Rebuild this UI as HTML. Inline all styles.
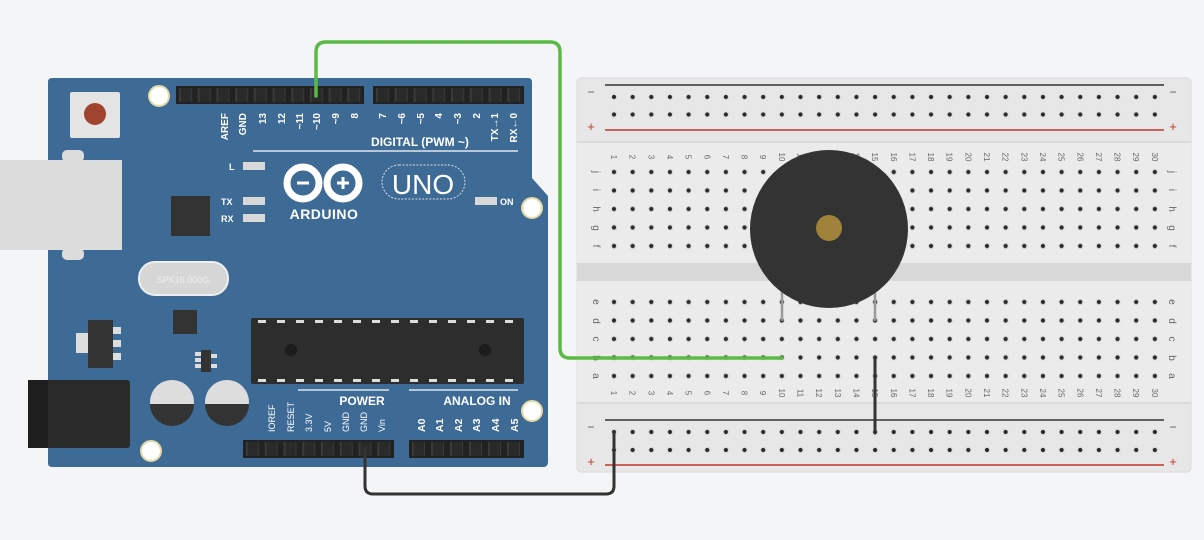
<!DOCTYPE html>
<html><head><meta charset="utf-8"><style>
html,body{margin:0;padding:0;background:#f4f5f7;}
svg{display:block;font-family:"Liberation Sans",sans-serif;}
</style></head><body>
<svg width="1204" height="540" viewBox="0 0 1204 540" xmlns="http://www.w3.org/2000/svg">
<defs>
<pattern id="hp" x="604.675" y="0" width="18.65" height="18.5" patternUnits="userSpaceOnUse">
<circle cx="9.325" cy="9.25" r="3.2" fill="#dcdcdc"/><circle cx="9.325" cy="9.25" r="2.1" fill="#2b2b2b"/>
</pattern>
<pattern id="hpm" x="604.675" y="162.75" width="18.65" height="18.5" patternUnits="userSpaceOnUse">
<circle cx="9.325" cy="9.25" r="3.2" fill="#dcdcdc"/><circle cx="9.325" cy="9.25" r="2.1" fill="#2b2b2b"/>
</pattern>
<pattern id="hpa" x="604.675" y="292.75" width="18.65" height="18.5" patternUnits="userSpaceOnUse">
<circle cx="9.325" cy="9.25" r="3.2" fill="#dcdcdc"/><circle cx="9.325" cy="9.25" r="2.1" fill="#2b2b2b"/>
</pattern>
<pattern id="hr1" x="604.675" y="88" width="18.65" height="17.5" patternUnits="userSpaceOnUse">
<circle cx="9.325" cy="9" r="3.2" fill="#dcdcdc"/><circle cx="9.325" cy="9" r="2.1" fill="#2b2b2b"/>
</pattern>
<pattern id="hr2" x="604.675" y="423" width="18.65" height="18" patternUnits="userSpaceOnUse">
<circle cx="9.325" cy="9" r="3.2" fill="#dcdcdc"/><circle cx="9.325" cy="9" r="2.1" fill="#2b2b2b"/>
</pattern>
<pattern id="pin" x="176" y="0" width="18.7" height="20" patternUnits="userSpaceOnUse">
<rect x="3" y="0" width="13" height="20" fill="#3a3a3a"/><rect x="5" y="0" width="10" height="20" fill="#2a2a2a"/>
</pattern>
<pattern id="pin2" x="373" y="0" width="18.75" height="20" patternUnits="userSpaceOnUse">
<rect x="3" y="0" width="13" height="20" fill="#3a3a3a"/><rect x="5" y="0" width="10" height="20" fill="#2a2a2a"/>
</pattern>
<pattern id="pin3" x="243" y="0" width="18.75" height="20" patternUnits="userSpaceOnUse">
<rect x="3" y="0" width="13" height="20" fill="#3a3a3a"/><rect x="5" y="0" width="10" height="20" fill="#2a2a2a"/>
</pattern>
<pattern id="pin4" x="409" y="0" width="19" height="20" patternUnits="userSpaceOnUse">
<rect x="3" y="0" width="13" height="20" fill="#3a3a3a"/><rect x="5" y="0" width="10" height="20" fill="#2a2a2a"/>
</pattern>
</defs>

<!-- Breadboard -->
<rect x="577" y="78" width="614" height="394" rx="4" fill="#e7e7e7" stroke="#dcdcdc"/>
<rect x="577" y="143" width="614" height="260" fill="#ebebeb"/>
<rect x="577" y="263" width="614" height="18" fill="#d8d8d8"/>
<rect x="577" y="141" width="614" height="2" fill="#dadada"/>
<rect x="577" y="402" width="614" height="2" fill="#dadada"/>
<line x1="605" y1="85" x2="1164" y2="85" stroke="#333" stroke-width="1.5"/>
<line x1="605" y1="130" x2="1164" y2="130" stroke="#c0392b" stroke-width="1.5"/>
<line x1="605" y1="420" x2="1164" y2="420" stroke="#333" stroke-width="1.5"/>
<line x1="605" y1="465" x2="1164" y2="465" stroke="#c0392b" stroke-width="1.5"/>
<rect x="604.675" y="88" width="559.5" height="35" fill="url(#hr1)"/>
<rect x="604.675" y="423" width="559.5" height="36" fill="url(#hr2)"/>
<rect x="604.675" y="162.75" width="559.5" height="92.5" fill="url(#hpm)"/>
<rect x="604.675" y="292.75" width="559.5" height="92.5" fill="url(#hpa)"/>
<g font-size="13" fill="#c0392b" text-anchor="middle"><text x="591" y="131">+</text><text x="1173" y="131">+</text><text x="591" y="466">+</text><text x="1173" y="466">+</text></g>
<g font-size="12" fill="#555" text-anchor="middle"><text x="591" y="96">−</text><text x="1173" y="96">−</text><text x="591" y="431">−</text><text x="1173" y="431">−</text></g>
<g font-size="10" fill="#666" text-anchor="middle">
<g transform="translate(596,0)"><text transform="translate(0,172) rotate(90)" y="3">j</text><text transform="translate(0,190) rotate(90)" y="3">i</text><text transform="translate(0,209) rotate(90)" y="3">h</text><text transform="translate(0,228) rotate(90)" y="3">g</text><text transform="translate(0,246) rotate(90)" y="3">f</text><text transform="translate(0,302) rotate(90)" y="3">e</text><text transform="translate(0,321) rotate(90)" y="3">d</text><text transform="translate(0,339) rotate(90)" y="3">c</text><text transform="translate(0,358) rotate(90)" y="3">b</text><text transform="translate(0,376) rotate(90)" y="3">a</text></g>
<g transform="translate(1172,0)"><text transform="translate(0,172) rotate(90)" y="3">j</text><text transform="translate(0,190) rotate(90)" y="3">i</text><text transform="translate(0,209) rotate(90)" y="3">h</text><text transform="translate(0,228) rotate(90)" y="3">g</text><text transform="translate(0,246) rotate(90)" y="3">f</text><text transform="translate(0,302) rotate(90)" y="3">e</text><text transform="translate(0,321) rotate(90)" y="3">d</text><text transform="translate(0,339) rotate(90)" y="3">c</text><text transform="translate(0,358) rotate(90)" y="3">b</text><text transform="translate(0,376) rotate(90)" y="3">a</text></g>
</g>
<g font-size="8" fill="#666" text-anchor="middle">
<g transform="translate(0,157)">
<text transform="translate(614,0) rotate(90)" y="3">1</text><text transform="translate(632.7,0) rotate(90)" y="3">2</text><text transform="translate(651.3,0) rotate(90)" y="3">3</text><text transform="translate(670,0) rotate(90)" y="3">4</text><text transform="translate(688.6,0) rotate(90)" y="3">5</text><text transform="translate(707.3,0) rotate(90)" y="3">6</text><text transform="translate(725.9,0) rotate(90)" y="3">7</text><text transform="translate(744.6,0) rotate(90)" y="3">8</text><text transform="translate(763.2,0) rotate(90)" y="3">9</text><text transform="translate(781.9,0) rotate(90)" y="3">10</text><text transform="translate(800.5,0) rotate(90)" y="3">11</text><text transform="translate(819.2,0) rotate(90)" y="3">12</text><text transform="translate(837.8,0) rotate(90)" y="3">13</text><text transform="translate(856.5,0) rotate(90)" y="3">14</text><text transform="translate(875.1,0) rotate(90)" y="3">15</text><text transform="translate(893.8,0) rotate(90)" y="3">16</text><text transform="translate(912.4,0) rotate(90)" y="3">17</text><text transform="translate(931.1,0) rotate(90)" y="3">18</text><text transform="translate(949.7,0) rotate(90)" y="3">19</text><text transform="translate(968.4,0) rotate(90)" y="3">20</text><text transform="translate(987,0) rotate(90)" y="3">21</text><text transform="translate(1005.7,0) rotate(90)" y="3">22</text><text transform="translate(1024.3,0) rotate(90)" y="3">23</text><text transform="translate(1043,0) rotate(90)" y="3">24</text><text transform="translate(1061.6,0) rotate(90)" y="3">25</text><text transform="translate(1080.3,0) rotate(90)" y="3">26</text><text transform="translate(1098.9,0) rotate(90)" y="3">27</text><text transform="translate(1117.6,0) rotate(90)" y="3">28</text><text transform="translate(1136.2,0) rotate(90)" y="3">29</text><text transform="translate(1154.9,0) rotate(90)" y="3">30</text>
</g>
<g transform="translate(0,393)">
<text transform="translate(614,0) rotate(90)" y="3">1</text><text transform="translate(632.7,0) rotate(90)" y="3">2</text><text transform="translate(651.3,0) rotate(90)" y="3">3</text><text transform="translate(670,0) rotate(90)" y="3">4</text><text transform="translate(688.6,0) rotate(90)" y="3">5</text><text transform="translate(707.3,0) rotate(90)" y="3">6</text><text transform="translate(725.9,0) rotate(90)" y="3">7</text><text transform="translate(744.6,0) rotate(90)" y="3">8</text><text transform="translate(763.2,0) rotate(90)" y="3">9</text><text transform="translate(781.9,0) rotate(90)" y="3">10</text><text transform="translate(800.5,0) rotate(90)" y="3">11</text><text transform="translate(819.2,0) rotate(90)" y="3">12</text><text transform="translate(837.8,0) rotate(90)" y="3">13</text><text transform="translate(856.5,0) rotate(90)" y="3">14</text><text transform="translate(875.1,0) rotate(90)" y="3">15</text><text transform="translate(893.8,0) rotate(90)" y="3">16</text><text transform="translate(912.4,0) rotate(90)" y="3">17</text><text transform="translate(931.1,0) rotate(90)" y="3">18</text><text transform="translate(949.7,0) rotate(90)" y="3">19</text><text transform="translate(968.4,0) rotate(90)" y="3">20</text><text transform="translate(987,0) rotate(90)" y="3">21</text><text transform="translate(1005.7,0) rotate(90)" y="3">22</text><text transform="translate(1024.3,0) rotate(90)" y="3">23</text><text transform="translate(1043,0) rotate(90)" y="3">24</text><text transform="translate(1061.6,0) rotate(90)" y="3">25</text><text transform="translate(1080.3,0) rotate(90)" y="3">26</text><text transform="translate(1098.9,0) rotate(90)" y="3">27</text><text transform="translate(1117.6,0) rotate(90)" y="3">28</text><text transform="translate(1136.2,0) rotate(90)" y="3">29</text><text transform="translate(1154.9,0) rotate(90)" y="3">30</text>
</g>
</g>

<!-- Buzzer -->
<line x1="782" y1="290" x2="782" y2="321" stroke="#999" stroke-width="2.5"/>
<line x1="875" y1="290" x2="875" y2="321" stroke="#999" stroke-width="2.5"/>
<ellipse cx="829" cy="229" rx="79" ry="79" fill="#333"/>
<ellipse cx="829" cy="228" rx="13" ry="13" fill="#a0823a"/>

<!-- Arduino board -->
<path d="M52,78 L528,78 Q532,78 532,82 L532,178 L548,196 L548,462 Q548,467 543,467 L52,467 Q48,467 48,463 L48,82 Q48,78 52,78 Z" fill="#3e6a96"/>
<rect x="0" y="160" width="122" height="90" fill="#dcdcdc"/>
<rect x="62" y="150" width="22" height="12" rx="5" fill="#dcdcdc"/>
<rect x="62" y="248" width="22" height="12" rx="5" fill="#dcdcdc"/>
<rect x="70" y="92" width="50" height="46" rx="2" fill="#e4e4e4"/>
<circle cx="95" cy="114" r="11" fill="#a0432f"/>
<circle cx="159" cy="96" r="10" fill="#fff" stroke="#e6d9a6" stroke-width="2"/>
<circle cx="532" cy="208" r="10" fill="#fff" stroke="#e6d9a6" stroke-width="2"/>
<circle cx="532" cy="411" r="10" fill="#fff" stroke="#e6d9a6" stroke-width="2"/>
<circle cx="151" cy="451" r="10" fill="#fff" stroke="#e6d9a6" stroke-width="2"/>
<rect x="176" y="86" width="188" height="18" fill="#222"/>
<rect x="176" y="88" width="188" height="14" fill="url(#pin)"/>
<rect x="373" y="86" width="151" height="18" fill="#222"/>
<rect x="373" y="88" width="151" height="14" fill="url(#pin2)"/>
<rect x="243" y="440" width="151" height="18" fill="#222"/>
<rect x="243" y="442" width="151" height="14" fill="url(#pin3)"/>
<rect x="409" y="440" width="115" height="18" fill="#222"/>
<rect x="409" y="442" width="115" height="14" fill="url(#pin4)"/>
<rect x="171" y="196" width="39" height="40" fill="#333"/>
<rect x="139" y="262" width="89" height="33" rx="16" fill="#d6d6d6" stroke="#eee" stroke-width="2"/>
<text x="183" y="283" font-size="9" fill="#eee" text-anchor="middle">SPK16.000G</text>
<rect x="173" y="310" width="24" height="24" fill="#333"/>
<rect x="76" y="333" width="14" height="20" fill="#ddd"/>
<rect x="88" y="320" width="25" height="48" fill="#333"/>
<rect x="113" y="327" width="8" height="7" fill="#ddd"/><rect x="113" y="340" width="8" height="7" fill="#ddd"/><rect x="113" y="353" width="8" height="7" fill="#ddd"/>
<rect x="201" y="350" width="10" height="22" fill="#333"/>
<rect x="195" y="352" width="6" height="4" fill="#ddd"/><rect x="195" y="358" width="6" height="4" fill="#ddd"/><rect x="195" y="364" width="6" height="4" fill="#ddd"/><rect x="211" y="354" width="6" height="4" fill="#ddd"/><rect x="211" y="364" width="6" height="4" fill="#ddd"/>
<rect x="28" y="380" width="102" height="68" rx="3" fill="#2a2a2a"/>
<rect x="28" y="380" width="20" height="68" fill="#1e1e1e"/>
<circle cx="172" cy="402" r="22" fill="#ddd"/><path d="M150,404 A22,22 0 0 0 194,404 Z" fill="#333"/>
<circle cx="227" cy="402" r="22" fill="#ddd"/><path d="M205,404 A22,22 0 0 0 249,404 Z" fill="#333"/>
<rect x="251" y="318" width="273" height="66" rx="2" fill="#2d2d2d"/>
<g fill="#ddd"><rect x="258" y="320" width="8" height="3"/><rect x="277" y="320" width="8" height="3"/><rect x="296" y="320" width="8" height="3"/><rect x="315" y="320" width="8" height="3"/><rect x="334" y="320" width="8" height="3"/><rect x="353" y="320" width="8" height="3"/><rect x="372" y="320" width="8" height="3"/><rect x="391" y="320" width="8" height="3"/><rect x="410" y="320" width="8" height="3"/><rect x="429" y="320" width="8" height="3"/><rect x="448" y="320" width="8" height="3"/><rect x="467" y="320" width="8" height="3"/><rect x="486" y="320" width="8" height="3"/><rect x="505" y="320" width="8" height="3"/>
<rect x="258" y="379" width="8" height="3"/><rect x="277" y="379" width="8" height="3"/><rect x="296" y="379" width="8" height="3"/><rect x="315" y="379" width="8" height="3"/><rect x="334" y="379" width="8" height="3"/><rect x="353" y="379" width="8" height="3"/><rect x="372" y="379" width="8" height="3"/><rect x="391" y="379" width="8" height="3"/><rect x="410" y="379" width="8" height="3"/><rect x="429" y="379" width="8" height="3"/><rect x="448" y="379" width="8" height="3"/><rect x="467" y="379" width="8" height="3"/><rect x="486" y="379" width="8" height="3"/><rect x="505" y="379" width="8" height="3"/></g>
<circle cx="291" cy="350" r="6" fill="#1c1c1c"/><circle cx="485" cy="350" r="6" fill="#1c1c1c"/>

<!-- LEDs -->
<g fill="#d8d8d8"><rect x="243" y="162" width="22" height="8"/><rect x="243" y="197" width="22" height="8"/><rect x="243" y="214" width="22" height="8"/><rect x="475" y="197" width="22" height="8"/></g>
<g fill="#fff" font-weight="bold" font-size="9"><text x="229" y="170">L</text><text x="221" y="205">TX</text><text x="221" y="222">RX</text><text x="500" y="205">ON</text></g>

<!-- logo -->
<circle cx="303" cy="183" r="16" fill="none" stroke="#fff" stroke-width="7"/>
<circle cx="343" cy="183" r="16" fill="none" stroke="#fff" stroke-width="7"/>
<rect x="297" y="181.5" width="12" height="3" fill="#fff"/>
<rect x="337" y="181.5" width="12" height="3" fill="#fff"/><rect x="341.5" y="177" width="3" height="12" fill="#fff"/>
<text x="324" y="219" font-size="14" font-weight="bold" fill="#fff" text-anchor="middle" letter-spacing="0.5">ARDUINO</text>
<rect x="382" y="165" width="83" height="34" rx="17" fill="none" stroke="#ddd" stroke-width="1" stroke-dasharray="2,1.5"/>
<text x="423" y="194" font-size="28" fill="#fff" text-anchor="middle" font-weight="normal">UNO</text>

<line x1="253" y1="151" x2="518" y2="151" stroke="#dfe6ee" stroke-width="1.5"/>
<text x="420" y="146" font-size="12" font-weight="bold" fill="#fff" text-anchor="middle">DIGITAL (PWM ~)</text>
<line x1="298" y1="390" x2="389" y2="390" stroke="#dfe6ee" stroke-width="1.5"/>
<line x1="409" y1="390" x2="518" y2="390" stroke="#dfe6ee" stroke-width="1.5"/>
<text x="362" y="405" font-size="12" font-weight="bold" fill="#fff" text-anchor="middle">POWER</text>
<text x="477" y="405" font-size="12" font-weight="bold" fill="#fff" text-anchor="middle">ANALOG IN</text>

<g font-size="10" font-weight="bold" fill="#fff" text-anchor="end">
<text transform="translate(228,113) rotate(-90)">AREF</text><text transform="translate(246,113) rotate(-90)">GND</text><text transform="translate(266,113) rotate(-90)">13</text><text transform="translate(285,113) rotate(-90)">12</text><text transform="translate(303,113) rotate(-90)">~11</text><text transform="translate(320,113) rotate(-90)">~10</text><text transform="translate(339,113) rotate(-90)">~9</text><text transform="translate(358,113) rotate(-90)">8</text>
<text transform="translate(386,113) rotate(-90)">7</text><text transform="translate(405,113) rotate(-90)">~6</text><text transform="translate(424,113) rotate(-90)">~5</text><text transform="translate(442,113) rotate(-90)">4</text><text transform="translate(461,113) rotate(-90)">~3</text><text transform="translate(480,113) rotate(-90)">2</text><text transform="translate(498,113) rotate(-90)">TX→1</text><text transform="translate(517,113) rotate(-90)">RX←0</text>
</g>
<g font-size="9" fill="#fff" text-anchor="start">
<text transform="translate(275,432) rotate(-90)">IOREF</text><text transform="translate(294,432) rotate(-90)">RESET</text><text transform="translate(312,432) rotate(-90)">3.3V</text><text transform="translate(331,432) rotate(-90)">5V</text><text transform="translate(349,432) rotate(-90)">GND</text><text transform="translate(367,432) rotate(-90)">GND</text><text transform="translate(385,432) rotate(-90)">Vin</text>
</g>
<g font-size="10.5" font-weight="bold" fill="#fff" text-anchor="start">
<text transform="translate(425,432) rotate(-90)">A0</text><text transform="translate(443,432) rotate(-90)">A1</text><text transform="translate(462,432) rotate(-90)">A2</text><text transform="translate(480,432) rotate(-90)">A3</text><text transform="translate(499,432) rotate(-90)">A4</text><text transform="translate(518,432) rotate(-90)">A5</text>
</g>

<!-- Wires -->
<path d="M316,96 L316,52 Q316,42 326,42 L550,42 Q560,42 560,52 L560,348 Q560,358 570,358 L782,358" fill="none" stroke="#5cb946" stroke-width="3.5" stroke-linecap="round"/>
<path d="M365,448 L365,486 Q365,494 373,494 L606,494 Q614,494 614,486 L614,432" fill="none" stroke="#333" stroke-width="3" stroke-linecap="round"/>
<line x1="875" y1="358" x2="875" y2="433" stroke="#333" stroke-width="3" stroke-linecap="round"/>
</svg>
</body></html>
